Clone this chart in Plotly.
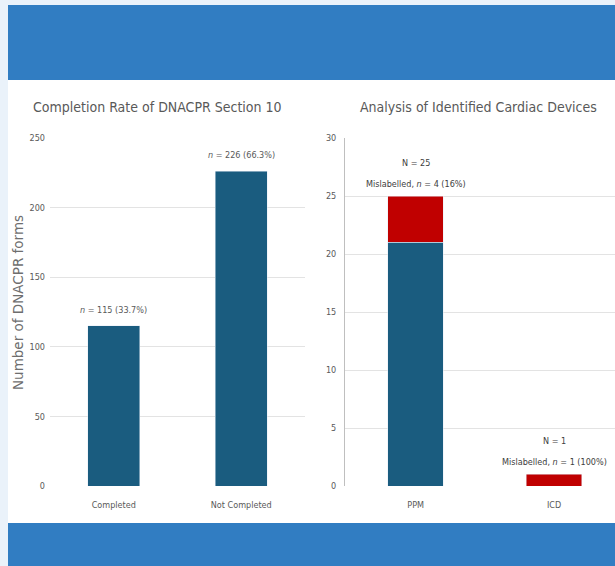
import plotly.graph_objects as go

# Completion of DNACPR section 10
completion_cats = ["Completed", "Not Completed"]
completion_counts = [115, 226]
completion_labels = ["<i>n</i> = 115 (33.7%)", "<i>n</i> = 226 (66.3%)"]

# Identified cardiac devices
device_cats = ["PPM", "ICD"]
device_correct = [21, 0]
device_mislabelled = [4, 1]
device_totals = ["N = 25", "N = 1"]
device_mislabel_text = ["Mislabelled, <i>n</i> = 4 (16%)", "Mislabelled, <i>n</i> = 1 (100%)"]

W, H = 615, 566
BLUE_BAR = "#1A5C7F"
RED_BAR = "#C00000"
TXT = "#595959"
NARROW = "DejaVu Sans Condensed, Liberation Sans Narrow, sans-serif"

def px(x):
    return x / W

def py(y):
    return 1 - y / H

fig = go.Figure()

fig.add_trace(go.Bar(x=completion_cats, y=completion_counts, marker_color=BLUE_BAR,
                     width=0.41, xaxis="x", yaxis="y", showlegend=False))
fig.add_trace(go.Bar(x=device_cats, y=device_correct, marker_color=BLUE_BAR,
                     width=0.4, xaxis="x2", yaxis="y2", showlegend=False))
fig.add_trace(go.Bar(x=device_cats, y=device_mislabelled, marker_color=RED_BAR,
                     width=0.4, xaxis="x2", yaxis="y2", showlegend=False))

annotations = []
for c, v, t in zip(completion_cats, completion_counts, completion_labels):
    annotations.append(dict(x=c, y=v, xref="x", yref="y", text=t, showarrow=False,
                            yshift=16, font=dict(family=NARROW, size=9, color=TXT)))
for c, a, b, n_txt, m_txt in zip(device_cats, device_correct, device_mislabelled,
                                 device_totals, device_mislabel_text):
    annotations.append(dict(x=c, y=a + b, xref="x2", yref="y2", text=m_txt, showarrow=False,
                            yshift=12, font=dict(family=NARROW, size=9, color="#404040")))
    annotations.append(dict(x=c, y=a + b, xref="x2", yref="y2", text=n_txt, showarrow=False,
                            yshift=33, font=dict(family=NARROW, size=9, color="#404040")))
annotations += [
    dict(x=px(157), y=py(107), xref="paper", yref="paper", xanchor="center", yanchor="middle",
         text="Completion Rate of DNACPR Section 10",
         showarrow=False, font=dict(family=NARROW, size=14, color=TXT)),
    dict(x=px(479), y=py(107), xref="paper", yref="paper", xanchor="center", yanchor="middle",
         text="Analysis of Identified Cardiac Devices",
         showarrow=False, font=dict(family=NARROW, size=14, color=TXT)),
    # y-axis title of the left chart
    dict(x=px(18), y=py(303), xref="paper", yref="paper", xanchor="center", yanchor="middle",
         text="Number of DNACPR forms", textangle=-90, showarrow=False,
         font=dict(family="DejaVu Sans, sans-serif", size=13.5, color="#6E6E6E")),
]

shapes = [
    dict(type="rect", xref="paper", yref="paper", x0=px(8), x1=1, y0=py(80), y1=py(5),
         fillcolor="#317DC2", line_width=0, layer="below"),
    dict(type="rect", xref="paper", yref="paper", x0=px(8), x1=1, y0=py(523), y1=py(80),
         fillcolor="white", line_width=0, layer="below"),
    dict(type="rect", xref="paper", yref="paper", x0=px(8), x1=1, y0=0, y1=py(523),
         fillcolor="#317DC2", line_width=0, layer="below"),
]

ydom = [py(486), py(138)]
tickfont = dict(family=NARROW, size=9, color=TXT)

fig.update_layout(
    width=W, height=H, margin=dict(l=0, r=0, t=0, b=0, autoexpand=False),
    paper_bgcolor="#EAF2FA", plot_bgcolor="rgba(0,0,0,0)",
    barmode="stack", bargap=0.5,
    annotations=annotations, shapes=shapes,
    xaxis=dict(domain=[px(50), px(305)], range=[-0.5, 1.5], tickfont=tickfont, automargin=False,
               showline=False, showgrid=False, ticks="", ticklabelstandoff=12, anchor="y"),
    yaxis=dict(domain=ydom, range=[0, 250], dtick=50, tickfont=tickfont, automargin=False,
               gridcolor="#E3E3E3", zeroline=False, showline=False, ticklabelstandoff=4,
               anchor="x"),
    xaxis2=dict(domain=[px(345), 1], range=[-0.51, 1.44], tickfont=tickfont, automargin=False,
                showline=False, showgrid=False, ticks="", ticklabelstandoff=12, anchor="y2"),
    yaxis2=dict(domain=ydom, range=[0, 30], dtick=5, tickfont=tickfont, automargin=False,
                gridcolor="#E3E3E3", zeroline=False, showline=True, linecolor="#BFBFBF",
                ticklabelstandoff=6, anchor="x2"),
)

fig.write_html("out.html")
